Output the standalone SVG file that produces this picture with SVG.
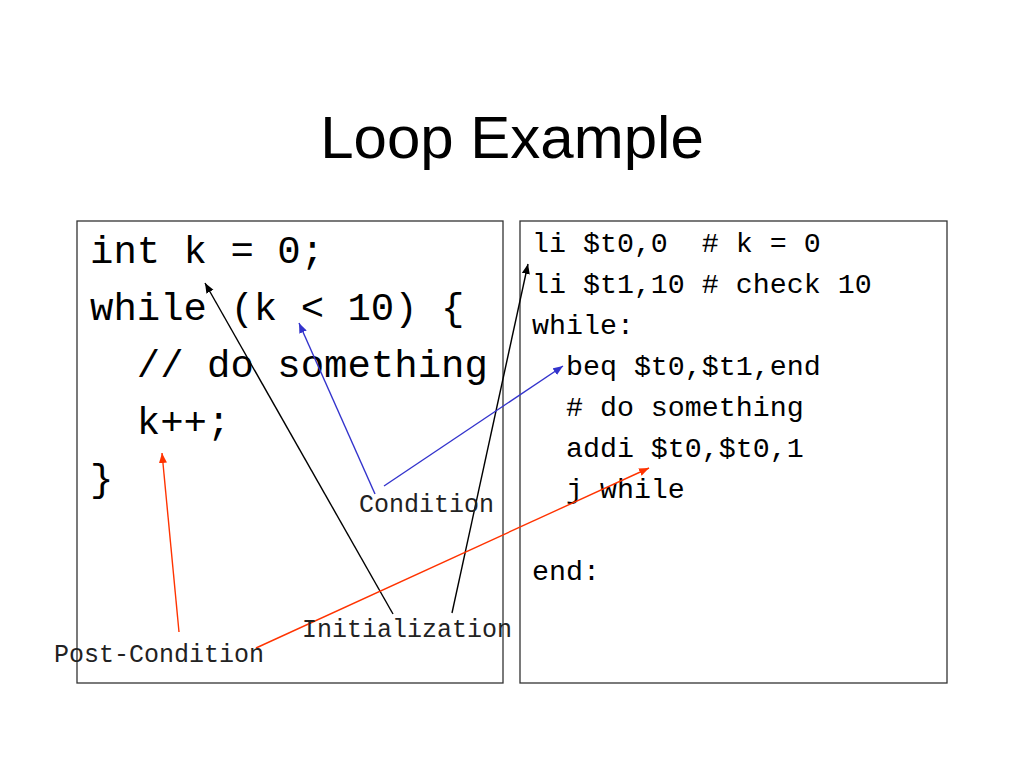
<svg xmlns="http://www.w3.org/2000/svg" width="1024" height="768" viewBox="0 0 1024 768">
<style>
.title{font-family:"Liberation Sans",Arial,sans-serif;font-size:60px;fill:#000}
.codeL{font-family:"Liberation Mono","Courier New",monospace;font-size:39px;fill:#000;white-space:pre}
.codeR{font-family:"Liberation Mono","Courier New",monospace;font-size:28.3px;fill:#000;white-space:pre}
.lbl{font-family:"Liberation Mono","Courier New",monospace;font-size:25px;fill:#222;white-space:pre}
.box{fill:#fff;stroke:#333;stroke-width:1.3}
.blk{stroke:#000;stroke-width:1.4;fill:none}
.blu{stroke:#3333cc;stroke-width:1.4;fill:none}
.red{stroke:#ff3300;stroke-width:1.4;fill:none}
</style>
<defs>
<marker id="aB" markerUnits="userSpaceOnUse" markerWidth="12" markerHeight="10" refX="10" refY="4" orient="auto"><path d="M0,0 L10,4 L0,8 Z" fill="#000"/></marker>
<marker id="aU" markerUnits="userSpaceOnUse" markerWidth="12" markerHeight="10" refX="10" refY="4" orient="auto"><path d="M0,0 L10,4 L0,8 Z" fill="#3333cc"/></marker>
<marker id="aR" markerUnits="userSpaceOnUse" markerWidth="12" markerHeight="10" refX="10" refY="4" orient="auto"><path d="M0,0 L10,4 L0,8 Z" fill="#ff3300"/></marker>
</defs>
<rect width="1024" height="768" fill="#fff"/>
<g id="title"><text class="title" x="512" y="158" text-anchor="middle">Loop Example</text></g>
<g id="cbox">
<rect class="box" x="77" y="221" width="426" height="462"/>
<text class="codeL" x="90" y="263">int k = 0;</text>
<text class="codeL" x="90" y="320">while (k &lt; 10) {</text>
<text class="codeL" x="90" y="377">  // do something</text>
<text class="codeL" x="90" y="434">  k++;</text>
<text class="codeL" x="90" y="491">}</text>
</g>
<g id="asmbox">
<rect class="box" x="520" y="221" width="427" height="462"/>
<text class="codeR" x="532" y="252">li $t0,0  # k = 0</text>
<text class="codeR" x="532" y="293">li $t1,10 # check 10</text>
<text class="codeR" x="532" y="334">while:</text>
<text class="codeR" x="532" y="375">  beq $t0,$t1,end</text>
<text class="codeR" x="532" y="416">  # do something</text>
<text class="codeR" x="532" y="457">  addi $t0,$t0,1</text>
<text class="codeR" x="532" y="498">  j while</text>
<text class="codeR" x="532" y="580">end:</text>
</g>
<g id="connectors">
<line class="blk" x1="393" y1="614" x2="205" y2="283" marker-end="url(#aB)"/>
<line class="blk" x1="452" y1="613" x2="528" y2="264" marker-end="url(#aB)"/>
<line class="blu" x1="375" y1="494" x2="299" y2="323" marker-end="url(#aU)"/>
<line class="blu" x1="384" y1="486" x2="563" y2="366" marker-end="url(#aU)"/>
<line class="red" x1="179" y1="632" x2="162" y2="453" marker-end="url(#aR)"/>
<line class="red" x1="256" y1="648" x2="649" y2="468" marker-end="url(#aR)"/>
</g>
<g id="lbl-condition"><text class="lbl" x="359" y="512">Condition</text></g>
<g id="lbl-init"><text class="lbl" x="302" y="637">Initialization</text></g>
<g id="lbl-post"><text class="lbl" x="54" y="662">Post-Condition</text></g>
</svg>
